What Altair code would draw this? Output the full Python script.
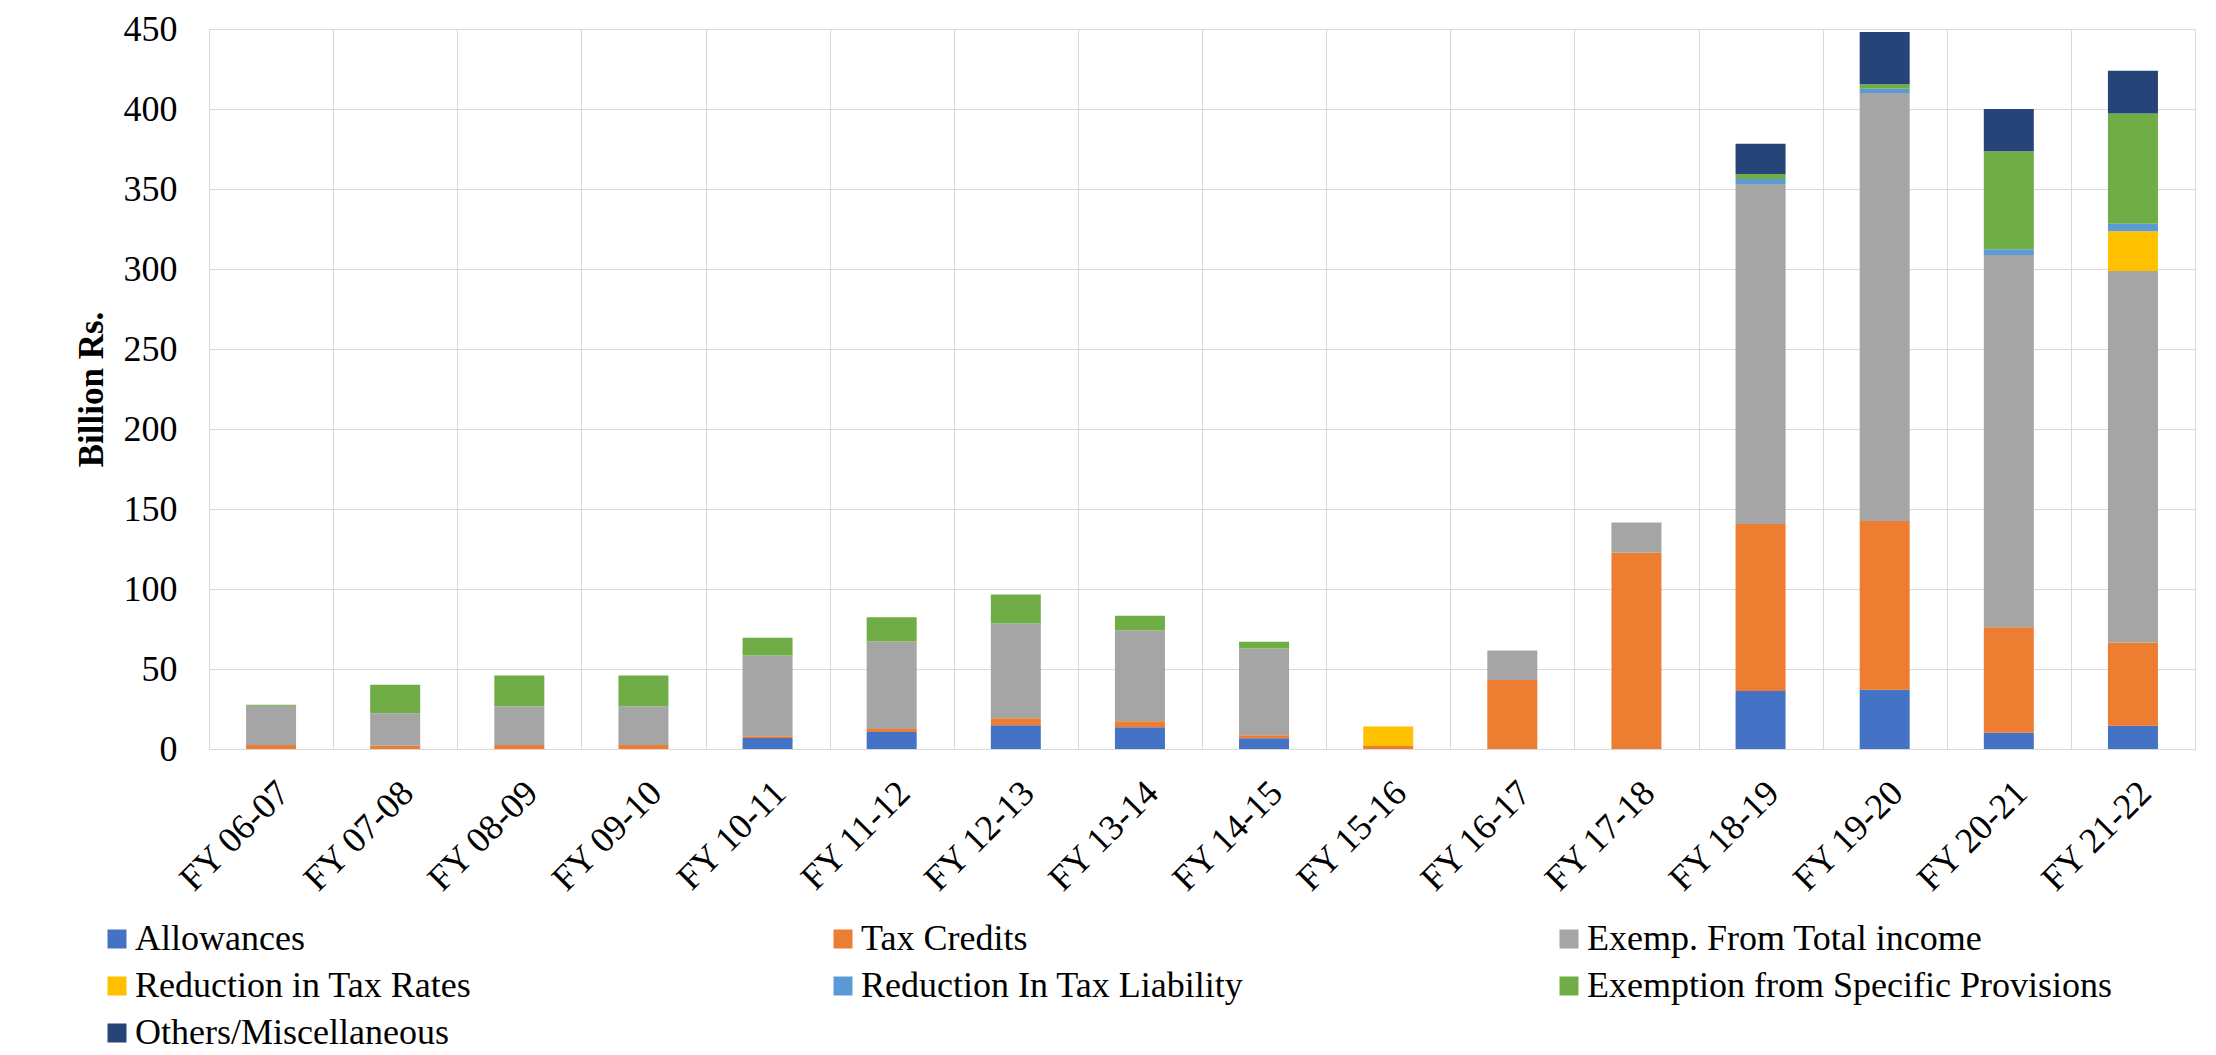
import altair as alt
import pandas as pd

categories = ["FY 06-07", "FY 07-08", "FY 08-09", "FY 09-10", "FY 10-11", "FY 11-12",
              "FY 12-13", "FY 13-14", "FY 14-15", "FY 15-16", "FY 16-17", "FY 17-18",
              "FY 18-19", "FY 19-20", "FY 20-21", "FY 21-22"]

series_names = ["Allowances", "Tax Credits", "Exemp. From Total income",
                "Reduction in Tax Rates", "Reduction In Tax Liability",
                "Exemption from Specific Provisions", "Others/Miscellaneous"]
series_colors = ["#4472C4", "#ED7D31", "#A5A5A5", "#FFC000", "#5B9BD5", "#70AD47", "#264478"]

allowances = [0, 0, 0, 0, 6.9, 10.6, 14.8, 13.6, 6.7, 0, 0, 0, 36.3, 37.0, 10.2, 14.6]
tax_credits = [2.5, 2.0, 2.5, 2.5, 1.0, 1.9, 4.4, 3.7, 1.9, 1.9, 43.2, 122.7, 104.4, 105.5, 65.9, 51.9]
exemp_total_income = [24.5, 20.4, 24.2, 24.2, 50.6, 54.7, 59.3, 56.8, 54.2, 0, 18.3, 18.9, 212.4, 267.5, 232.6, 232.3]
reduction_tax_rates = [0, 0, 0, 0, 0, 0, 0, 0, 0, 12.1, 0, 0, 0, 0, 0, 24.8]
reduction_tax_liability = [0, 0, 0, 0, 0, 0, 0, 0, 0, 0, 0, 0, 3.1, 2.7, 3.7, 4.7]
exemption_specific = [0.6, 17.7, 19.3, 19.3, 11.0, 15.1, 18.0, 9.2, 4.2, 0, 0, 0, 3.1, 2.8, 61.2, 68.9]
others_misc = [0, 0, 0, 0, 0, 0, 0, 0, 0, 0, 0, 0, 19.0, 32.6, 26.4, 26.7]

y_ticks = [0, 50, 100, 150, 200, 250, 300, 350, 400, 450]

all_series = [allowances, tax_credits, exemp_total_income, reduction_tax_rates,
              reduction_tax_liability, exemption_specific, others_misc]

rows = []
for si, (name, vals) in enumerate(zip(series_names, all_series)):
    for cat, v in zip(categories, vals):
        rows.append({"year": cat, "series": name, "value": v, "order": si})
df = pd.DataFrame(rows)

FONT = "Liberation Serif"
GRID = "#d9d9d9"

chart = alt.Chart(df).mark_bar(size=50).encode(
    x=alt.X("year:N", sort=categories, title=None,
            scale=alt.Scale(paddingInner=0, paddingOuter=0),
            axis=alt.Axis(labelAngle=-45, labelAlign="right", labelBaseline="top",
                          labelPadding=26, labelFont=FONT, labelFontSize=36,
                          labelColor="black", ticks=False, domain=False,
                          grid=True, gridColor=GRID, gridWidth=1, tickBand="extent")),
    y=alt.Y("value:Q", title="Billion Rs.", stack="zero",
            scale=alt.Scale(domain=[0, 450], nice=False),
            axis=alt.Axis(values=y_ticks, labelFont=FONT, labelFontSize=36,
                          labelColor="black", labelPadding=32, ticks=False, domain=False,
                          grid=True, gridColor=GRID, gridWidth=1,
                          titleFont=FONT, titleFontSize=35, titleFontWeight="bold",
                          titleColor="black", titlePadding=14)),
    color=alt.Color("series:N", sort=series_names,
                    scale=alt.Scale(domain=series_names, range=series_colors),
                    legend=alt.Legend(title=None, orient="none", legendX=-110, legendY=892,
                                      columns=3, direction="horizontal", gridAlign="all",
                                      columnPadding=165, rowPadding=11,
                                      symbolType="square", symbolSize=361,
                                      symbolStrokeWidth=0, labelOffset=0,
                                      labelFont=FONT, labelFontSize=36, labelColor="black",
                                      labelLimit=1000, padding=0)),
    order=alt.Order("order:Q", sort="ascending"),
).properties(
    width=1986, height=720,
    autosize=alt.AutoSizeParams(type="none"),
    padding={"left": 201, "top": 21, "right": 13, "bottom": 305},
).configure_view(stroke=GRID, strokeWidth=1).configure(background="white")

chart.save("out.html", embed_options={"renderer": "svg", "actions": False})
